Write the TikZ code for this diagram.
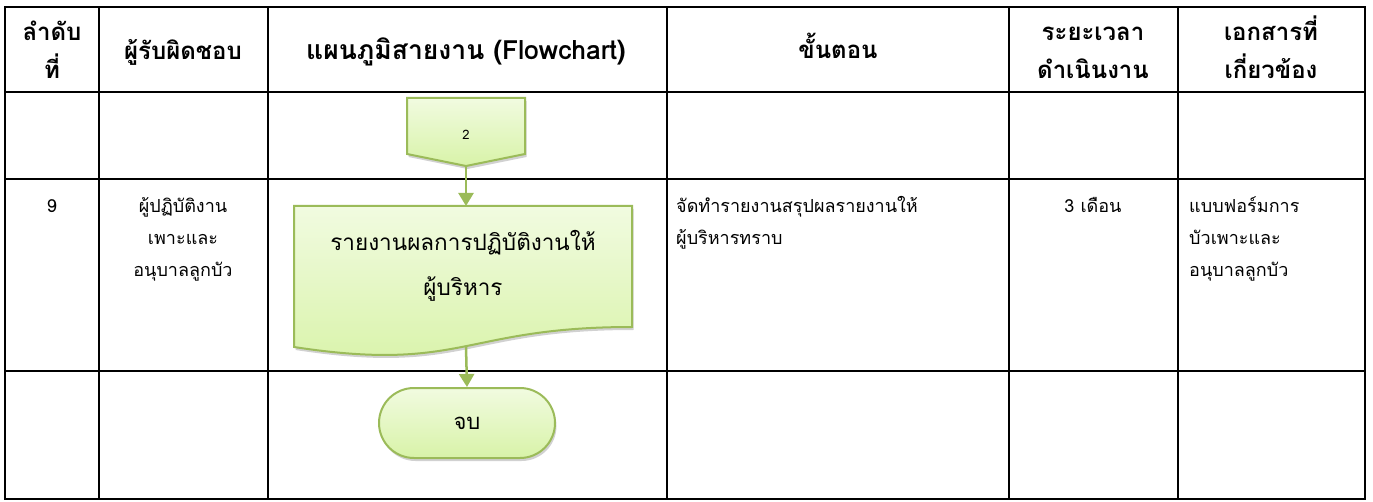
\documentclass[tikz,border=0pt]{standalone}
\usepackage{fontspec}
\setmainfont[Script=Thai]{Loma}
\usetikzlibrary{arrows.meta,shadows}
\definecolor{olive}{RGB}{155,187,89}
\definecolor{gtop}{RGB}{241,251,224}
\definecolor{gbot}{RGB}{216,243,168}
\newcommand\hdfont{\fontsize{24}{38}\selectfont\bfseries}
\newcommand\bdfont{\fontsize{18}{32}\selectfont}
\begin{document}
\begin{tikzpicture}[x=1pt,y=-1pt,
  tbl/.style={line width=2.2pt,black},
  hd/.style={font=\hdfont,align=center,anchor=north,inner sep=0pt},
  bd/.style={font=\bdfont,align=center,anchor=north,inner sep=0pt},
  bdl/.style={font=\bdfont,align=left,anchor=north west,inner sep=0pt},
  flowshape/.style={draw=olive,line width=2pt,top color=gtop,bottom color=gbot,
    drop shadow={shadow xshift=1.5pt,shadow yshift=-3pt,opacity=0.3,fill=black!60}},
  flow/.style={draw=olive,line width=2.5pt,-{Triangle[width=15pt,length=13pt]}}]
\useasboundingbox (0,0) rectangle (1373,502);
% table grid
\draw[tbl] (5,7) rectangle (1365,499);
\foreach \cx in {99,268,667,1009,1178} \draw[tbl] (\cx,7) -- (\cx,499);
\foreach \ry in {92,179,371} \draw[tbl] (5,\ry) -- (1365,\ry);
% header
\node[hd] (h1) at (52,14) {\strut ลำดับ\\\strut ที่};
\node[hd] (h2) at (183,33) {\strut ผู้รับผิดชอบ};
\node[hd,font=\fontsize{26.5}{38}\selectfont\bfseries] (h3) at (466,33) {\strut แผนภูมิสายงาน (Flowchart)};
\node[hd] (h4) at (838,32) {\strut ขั้นตอน};
\node[hd] (h5) at (1093,14) {\strut ระยะเวลา\\\strut ดำเนินงาน};
\node[hd] (h6) at (1271,14) {\strut เอกสารที่\\\strut เกี่ยวข้อง};
% body row
\node[bd] (n9) at (52,190) {\strut 9};
\node[bd] (who) at (183,190) {\strut ผู้ปฏิบัติงาน\\\strut เพาะและ\\\strut อนุบาลลูกบัว};
\node[bdl] (step) at (676,190) {\strut จัดทำรายงานสรุปผลรายงานให้\\\strut ผู้บริหารทราบ};
\node[bd] (time) at (1093,190) {\strut 3 เดือน};
\node[bdl] (docs) at (1189,190) {\strut แบบฟอร์มการ\\\strut บัวเพาะและ\\\strut อนุบาลลูกบัว};
% off-page connector
\path[flowshape] (407,98) -- (525,98) -- (525,154) -- (466,166) -- (407,154) -- cycle;
\node[inner sep=0pt,font=\fontsize{13}{15}\selectfont] (conn) at (466,135) {2};
\coordinate (conntip) at (466,166);
% document shape
\path[flowshape] (294,206) -- (632,206) -- (632,327) .. controls (463,327) and (463,373) .. (294,347) -- cycle;
\node[inner sep=0pt,align=center,anchor=north,font=\fontsize{22.5}{45}\selectfont] (doc) at (463,219) {\strut รายงานผลการปฏิบัติงานให้\\\strut ผู้บริหาร};
\coordinate (doctop) at (466,206);
\coordinate (docbot) at (466,347);
% terminator
\node[flowshape,rounded corners=35pt,minimum width=176pt,minimum height=70pt,inner sep=0pt,font=\fontsize{22}{26}\selectfont] (end) at (467,423) {จบ};
% connectors
\draw[flow] (conntip) -- (doctop);
\draw[flow] (docbot) -- (end.north);
\end{tikzpicture}
\end{document}
